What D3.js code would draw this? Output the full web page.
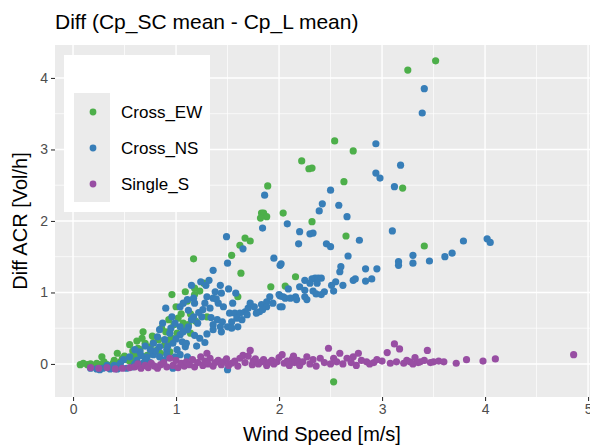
<!DOCTYPE html>
<html><head><meta charset="utf-8">
<script src="https://cdn.jsdelivr.net/npm/d3@7"></script>
<style>body{margin:0;background:#fff}text{font-family:"Liberation Sans",Arial,sans-serif}</style>
</head><body><svg id="c" width="590" height="445"></svg>
<script>
const seriesNames = ["Cross_EW","Cross_NS","Single_S"];
const seriesColors = ["#4DAF4A","#377EB8","#984EA3"];
const xTicks = [0,1,2,3,4,5];
const yTicks = [0,1,2,3,4];
const titleText = "Diff (Cp_SC mean - Cp_L mean)";
const xTitle = "Wind Speed [m/s]";
const yTitle = "Diff ACR [Vol/h]";

const crossEW = [[3.52,4.24],[3.25,4.11],[2.54,3.12],[2.72,2.98],[2.22,2.84],[2.29,2.73],[2.32,2.74],[2.63,2.55],[3.20,2.46],[2.04,2.11],[2.32,1.99],[2.65,1.79],[3.41,1.65],[2.16,1.22],[2.06,1.09],[1.89,2.49],[1.83,2.11],[1.85,2.11],[1.88,2.06],[1.82,2.04],[1.67,1.76],[1.72,1.72],[1.62,1.66],[1.54,1.52],[1.17,1.47],[1.63,1.27],[1.27,1.13],[1.18,1.06],[1.11,0.88],[1.60,0.94],[1.92,1.08],[1.23,1.02],[1.30,0.66],[1.07,0.57],[1.12,0.55],[0.96,0.97],[1.18,0.97],[1.09,1.01],[1.14,0.70],[1.06,0.52],[1.01,0.43],[0.96,0.36],[1.14,0.43],[0.89,0.27],[0.55,0.27],[0.63,0.22],[0.43,0.15],[0.28,0.10],[2.53,-0.25],[0.68,0.45],[0.67,0.36],[0.83,0.34],[0.94,0.34],[0.65,0.20],[0.75,0.24],[0.82,0.20],[0.60,0.13],[0.94,0.17],[0.07,-0.01],[0.14,-0.01],[0.19,-0.03],[0.26,-0.01],[0.33,-0.01],[0.39,0.01],[0.46,0.03],[0.52,0.06],[0.57,0.07],[0.36,-0.04],[0.43,-0.03],[1.02,0.64],[1.19,0.60],[0.86,0.50],[0.77,0.39],[0.50,0.11],[0.70,0.29],[0.23,0.01],[0.30,0.03],[0.10,0.01],[0.17,0.00],[0.72,0.12],[0.78,0.30],[0.90,0.45],[0.98,0.55],[1.05,0.70],[0.85,0.15],[0.62,0.32],[0.58,0.18],[1.00,0.80],[0.93,0.62],[0.48,0.08],[0.55,0.04],[0.40,0.05]];

const crossNS = [[3.41,3.85],[3.39,3.51],[2.94,3.08],[3.18,2.78],[2.94,2.67],[2.98,2.60],[3.12,2.48],[2.50,2.43],[2.42,2.24],[2.58,2.22],[2.39,2.14],[2.66,2.06],[2.08,1.96],[3.10,1.86],[2.20,1.85],[2.30,1.82],[2.33,1.83],[3.79,1.72],[4.02,1.75],[4.05,1.70],[2.19,1.68],[2.78,1.73],[2.46,1.68],[2.50,1.64],[3.68,1.55],[3.61,1.50],[2.67,1.51],[3.30,1.52],[3.16,1.43],[3.16,1.38],[3.30,1.41],[3.46,1.44],[2.02,1.40],[2.60,1.36],[2.59,1.29],[2.84,1.33],[2.95,1.33],[2.90,1.19],[2.84,1.16],[2.72,1.17],[2.74,1.19],[2.62,1.10],[2.55,1.15],[2.51,1.10],[2.53,1.02],[2.25,1.17],[2.32,1.19],[2.35,1.20],[2.38,1.20],[2.41,1.20],[2.30,1.13],[2.37,1.13],[2.20,1.08],[2.25,1.03],[2.33,1.02],[2.36,0.98],[2.41,0.97],[2.44,1.01],[2.09,1.05],[2.01,0.95],[2.06,0.92],[2.16,0.94],[2.17,0.90],[2.25,0.94],[2.27,0.90],[2.03,0.80],[1.86,2.36],[1.84,1.90],[1.49,1.78],[1.65,1.61],[1.95,1.48],[2.01,1.38],[1.50,1.41],[1.36,1.31],[1.24,1.15],[1.29,1.10],[1.32,1.17],[1.43,1.10],[1.44,0.99],[1.38,1.01],[1.36,0.92],[1.41,0.85],[1.51,1.05],[1.58,0.99],[1.91,0.94],[1.88,0.87],[1.83,0.83],[1.88,0.80],[1.94,0.85],[2.00,0.97],[2.04,0.94],[2.11,0.92],[2.01,0.80],[1.81,0.73],[1.84,0.76],[1.52,0.71],[1.57,0.71],[1.62,0.71],[1.67,0.73],[1.70,0.78],[1.59,0.64],[1.64,0.62],[1.69,0.69],[1.54,0.59],[1.40,0.62],[1.45,0.59],[1.43,0.52],[1.36,0.55],[1.50,0.52],[1.04,0.80],[1.07,0.85],[1.17,0.92],[1.18,0.85],[1.26,0.76],[1.25,0.66],[1.17,0.66],[1.21,0.57],[1.12,0.52],[1.39,0.91],[1.30,0.94],[0.90,0.78],[1.33,0.78],[1.11,0.90],[0.96,0.66],[0.87,0.57],[0.99,0.57],[1.04,0.52],[0.84,0.48],[0.94,0.43],[1.04,0.41],[1.11,0.48],[0.82,0.38],[0.89,0.34],[0.97,0.29],[1.06,0.31],[1.09,0.24],[0.78,0.29],[0.84,0.24],[0.91,0.20],[1.01,0.20],[0.65,0.17],[0.72,0.10],[0.78,0.13],[0.84,0.10],[0.55,0.10],[0.49,0.06],[0.91,0.13],[0.99,0.10],[1.04,0.13],[1.11,0.10],[0.68,0.01],[0.46,0.01],[0.17,-0.06],[0.23,-0.07],[0.29,-0.06],[0.36,-0.07],[0.43,-0.07],[0.52,-0.06],[0.58,-0.04],[1.15,1.10],[1.50,-0.08],[0.97,-0.06],[0.26,-0.08],[1.07,0.45],[1.23,0.36],[1.36,0.48],[1.54,0.50],[1.78,0.71],[1.10,0.29],[1.18,0.40],[1.30,0.42],[1.44,0.45],[1.60,0.52],[0.60,0.20],[0.70,0.25],[0.62,0.05],[0.75,0.02],[0.88,0.05],[0.80,0.18],[1.20,0.25],[1.28,0.30],[0.95,0.50],[1.00,0.35],[1.15,0.62],[1.22,0.72],[1.28,0.85],[1.34,0.65],[0.92,0.25],[0.75,0.20],[0.70,0.05],[0.60,0.00],[0.66,0.12],[1.12,0.75],[1.46,0.80],[1.55,0.85],[1.72,0.85],[1.76,0.80],[0.40,-0.02],[0.33,-0.02]];

const singleS = [[0.17,-0.05],[0.25,-0.06],[0.33,-0.05],[0.41,-0.07],[0.48,-0.06],[0.55,-0.05],[0.60,-0.04],[0.63,0.00],[0.66,-0.06],[0.70,-0.02],[0.73,-0.05],[0.76,0.01],[0.79,-0.03],[0.82,-0.06],[0.85,-0.01],[0.88,0.02],[0.91,-0.04],[0.94,0.08],[0.97,-0.02],[1.00,0.05],[1.02,-0.05],[1.05,0.01],[1.08,-0.03],[1.10,0.03],[1.13,-0.01],[1.16,0.06],[1.18,-0.04],[1.21,0.02],[1.24,0.10],[1.26,-0.02],[1.28,0.04],[1.30,0.15],[1.31,0.00],[1.33,0.08],[1.36,-0.03],[1.38,0.02],[1.41,0.05],[1.44,-0.01],[1.46,0.03],[1.49,0.07],[1.51,-0.02],[1.54,0.01],[1.57,0.04],[1.60,-0.03],[1.62,0.08],[1.65,0.12],[1.67,0.02],[1.70,0.11],[1.72,0.19],[1.74,-0.01],[1.75,0.04],[1.77,0.07],[1.80,0.00],[1.83,0.03],[1.85,0.06],[1.88,-0.02],[1.90,0.02],[1.93,0.05],[1.95,0.00],[1.98,0.03],[2.00,0.09],[2.03,0.13],[2.05,0.01],[2.08,0.04],[2.10,-0.02],[2.13,0.07],[2.14,0.11],[2.15,0.02],[2.18,0.05],[2.20,-0.02],[2.23,0.03],[2.27,0.10],[2.30,0.00],[2.33,0.06],[2.36,-0.03],[2.40,0.08],[2.44,0.02],[2.48,0.22],[2.50,0.00],[2.53,0.08],[2.56,0.03],[2.59,0.15],[2.62,0.00],[2.66,0.08],[2.70,0.02],[2.72,0.10],[2.75,-0.02],[2.77,0.15],[2.80,0.05],[2.85,0.03],[2.88,0.00],[2.92,0.02],[2.95,0.06],[3.00,0.04],[3.05,0.16],[3.08,0.01],[3.12,0.28],[3.14,0.03],[3.17,0.21],[3.21,0.01],[3.24,0.05],[3.27,0.03],[3.30,0.00],[3.32,0.09],[3.35,0.02],[3.37,0.03],[3.41,0.05],[3.44,0.19],[3.47,0.02],[3.50,0.03],[3.55,0.04],[3.60,0.03],[3.72,0.01],[3.82,0.06],[3.98,0.04],[4.10,0.07],[4.86,0.13]];

const seriesData = [crossEW, crossNS, singleS];

const svg = d3.select("#c");
svg.append("rect").attr("width",590).attr("height",445).attr("fill","#fff");

const P = {l:55, t:45, b:397, r:599.4};
const x = d3.scaleLinear().domain([-0.175, 5.11]).range([P.l, P.r]);
const y = d3.scaleLinear().domain([-0.462, 4.461]).range([P.b, P.t]);

svg.append("rect").attr("x",P.l).attr("y",P.t).attr("width",P.r-P.l).attr("height",P.b-P.t).attr("fill","#EBEBEB");

const xMinor = d3.range(0.5, 5, 1), yMinor = d3.range(0.5, 4.5, 1);
const grid = svg.append("g");
grid.selectAll(".vm").data(xMinor).join("line").attr("x1",d=>x(d)).attr("x2",d=>x(d)).attr("y1",P.t).attr("y2",P.b).attr("stroke","#fff").attr("stroke-width",0.7);
grid.selectAll(".hm").data(yMinor).join("line").attr("y1",d=>y(d)).attr("y2",d=>y(d)).attr("x1",P.l).attr("x2",P.r).attr("stroke","#fff").attr("stroke-width",0.7);
grid.selectAll(".vM").data(xTicks).join("line").attr("x1",d=>x(d)).attr("x2",d=>x(d)).attr("y1",P.t).attr("y2",P.b).attr("stroke","#fff").attr("stroke-width",1.4);
grid.selectAll(".hM").data(yTicks).join("line").attr("y1",d=>y(d)).attr("y2",d=>y(d)).attr("x1",P.l).attr("x2",P.r).attr("stroke","#fff").attr("stroke-width",1.4);

svg.append("clipPath").attr("id","clip").append("rect").attr("x",P.l).attr("y",P.t).attr("width",P.r-P.l).attr("height",P.b-P.t);
const pts = svg.append("g").attr("clip-path","url(#clip)");
seriesData.forEach((arr,i)=>{
  pts.append("g").selectAll("circle").data(arr).join("circle")
    .attr("cx",d=>x(d[0])).attr("cy",d=>y(d[1])).attr("r",3.6).attr("fill",seriesColors[i]);
});

const xa = svg.append("g").attr("transform",`translate(0,${P.b})`).call(d3.axisBottom(x).tickValues(xTicks).tickSize(4).tickPadding(3).tickFormat(d3.format("d")));
const ya = svg.append("g").attr("transform",`translate(${P.l},0)`).call(d3.axisLeft(y).tickValues(yTicks).tickSize(4).tickPadding(3).tickFormat(d3.format("d")));
[xa,ya].forEach(a=>{
  a.select(".domain").remove();
  a.selectAll(".tick line").attr("stroke","#333").attr("stroke-width",1.1);
  a.selectAll(".tick text").attr("fill","#4D4D4D").style("font-size","14px").style("font-family","'Liberation Sans',Arial,sans-serif");
});

svg.append("text").attr("x",55).attr("y",29).text(titleText).attr("fill","#000").style("font-size","21px");
svg.append("text").attr("x",322).attr("y",441).attr("text-anchor","middle").text(xTitle).attr("fill","#000").style("font-size","20px");
svg.append("text").attr("transform",`translate(27,${(P.t+P.b)/2}) rotate(-90)`).attr("text-anchor","middle").text(yTitle).attr("fill","#000").style("font-size","20px");

const lg = svg.append("g");
lg.append("rect").attr("x",64).attr("y",55).attr("width",146).attr("height",157).attr("fill","#fff");
lg.append("rect").attr("x",74).attr("y",93).attr("width",36).attr("height",109).attr("fill","#EBEBEB");
const ky = d3.scalePoint().domain(seriesNames).range([112,184]);
seriesNames.forEach((n,i)=>{
  lg.append("circle").attr("cx",93).attr("cy",ky(n)).attr("r",3.4).attr("fill",seriesColors[i]);
  lg.append("text").attr("x",121).attr("y",ky(n)).attr("dy","0.36em").text(n).attr("fill","#000").style("font-size","17px");
});
</script></body></html>
